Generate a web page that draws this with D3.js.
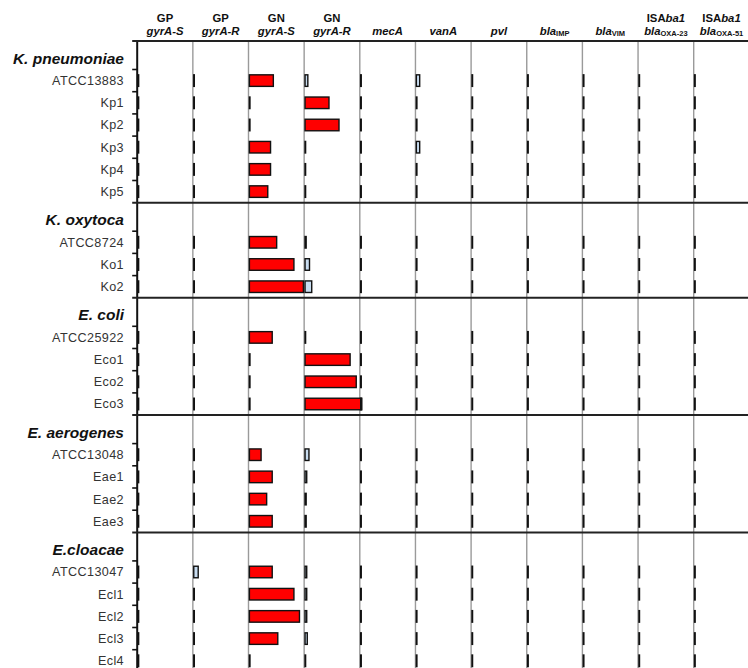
<!DOCTYPE html>
<html>
<head>
<meta charset="utf-8">
<script src="https://cdn.jsdelivr.net/npm/d3@7"></script>
<style>
  html, body { margin: 0; padding: 0; background: #fff; }
  svg { display: block; font-family: Arial, "Liberation Sans", sans-serif; }
</style>
</head>
<body>
<svg id="chart" width="748" height="668"></svg>
<script>
// Species groups and their isolates, top to bottom
const groupNames = ["K. pneumoniae", "K. oxytoca", "E. coli", "E. aerogenes", "E.cloacae"];
const kPneumoniae = ["ATCC13883", "Kp1", "Kp2", "Kp3", "Kp4", "Kp5"];
const kOxytoca = ["ATCC8724", "Ko1", "Ko2"];
const eColi = ["ATCC25922", "Eco1", "Eco2", "Eco3"];
const eAerogenes = ["ATCC13048", "Eae1", "Eae2", "Eae3"];
const eCloacae = ["ATCC13047", "Ecl1", "Ecl2", "Ecl3", "Ecl4"];
const groupSamples = [kPneumoniae, kOxytoca, eColi, eAerogenes, eCloacae];

// Column headers (first line, second line)
const headerTop = ["GP", "GP", "GN", "GN", "", "", "", "", "", "ISAba1", "ISAba1"];
const headerBottom = ["gyrA-S", "gyrA-R", "gyrA-S", "gyrA-R", "mecA", "vanA", "pvl",
                      "bla|IMP", "bla|VIM", "bla|OXA-23", "bla|OXA-51"];

// Signal per target, one value per isolate (same order as above), relative scale 0-100
const gpGyrAS  = [1,1,1,1,1,1, 1,1,1, 1,1,1,1, 1,1,1,1, 1,1,1,1,1];
const gpGyrAR  = [1,1,1,1,1,1, 1,1,1, 1,1,1,1, 1,1,1,1, 8,1,1,1,1];
const gnGyrAS  = [43,1,1,38,38,33, 49,80,97, 41,1,1,1, 21,41,31,41, 41,80,90,51,1];
const gnGyrAR  = [5,43,61,1,1,1, 2,8,12, 1,81,92,102, 7,3,2,2, 3,3,3,4,1];
const mecA     = [1,1,1,1,1,1, 1,1,1, 1,1,1,1, 1,1,1,1, 1,1,1,1,1];
const vanA     = [6,1,1,6,1,1, 1,1,1, 1,1,1,1, 1,1,1,1, 1,1,1,1,1];
const pvl      = [1,1,1,1,1,1, 1,1,1, 1,1,1,1, 1,1,1,1, 1,1,1,1,1];
const blaIMP   = [1,1,1,1,1,1, 1,1,1, 1,1,1,1, 1,1,1,1, 1,1,1,1,1];
const blaVIM   = [1,1,1,1,1,1, 1,1,1, 1,1,1,1, 1,1,1,1, 1,1,1,1,1];
const blaOXA23 = [1,1,1,1,1,1, 1,1,1, 1,1,1,1, 1,1,1,1, 1,1,1,1,1];
const blaOXA51 = [1,1,1,1,1,1, 1,1,1, 1,1,1,1, 1,1,1,1, 1,1,1,1,1];
const columnValues = [gpGyrAS, gpGyrAR, gnGyrAS, gnGyrAR, mecA, vanA, pvl, blaIMP, blaVIM, blaOXA23, blaOXA51];

// Values below this are drawn as weak (pale) signals
const weakThreshold = 15;

const svg = d3.select("#chart");
svg.append("rect").attr("width", 748).attr("height", 668).attr("fill", "#fff");

const plotLeft = 137.2, colStep = 55.65, plotTop = 41;
const headerH = 28.5, rowH = 22.2;
const colKeys = d3.range(headerBottom.length);

const colX = d3.scaleBand().domain(colKeys).range([plotLeft, plotLeft + colStep * colKeys.length]);
const xVal = d3.scaleLinear().domain([0, 100]).range([0, colX.bandwidth()]);

// One band scale per species block
let cursor = plotTop;
const blocks = groupSamples.map((samples, gi) => {
  const top = cursor;
  const y = d3.scaleBand().domain(samples)
    .range([top + headerH, top + headerH + samples.length * rowH]);
  cursor = top + headerH + samples.length * rowH;
  return { name: groupNames[gi], samples, top, bottom: cursor, y };
});
const plotBottom = cursor;

// Vertical grid lines at each column's baseline
svg.append("g").selectAll("line").data(colKeys.slice(1).concat([colKeys.length]))
  .join("line")
  .attr("x1", d => plotLeft + colStep * d).attr("x2", d => plotLeft + colStep * d)
  .attr("y1", plotTop).attr("y2", plotBottom)
  .attr("stroke", "#9a9a9a").attr("stroke-width", 1.4);

// Bars
let sampleIndex = 0;
const barData = [];
blocks.forEach(b => {
  b.samples.forEach(s => {
    colKeys.forEach(c => {
      barData.push({ block: b, sample: s, col: c, value: columnValues[c][sampleIndex] });
    });
    sampleIndex++;
  });
});
const barH = rowH * 0.52;
svg.append("g").selectAll("rect").data(barData).join("rect")
  .attr("x", d => colX(d.col) + 0.9)
  .attr("y", d => d.block.y(d.sample) + (d.block.y.bandwidth() - barH) / 2)
  .attr("width", d => xVal(d.value))
  .attr("height", barH)
  .attr("fill", d => d.value >= weakThreshold ? "#ff0000" : "#c8dcf0")
  .attr("stroke", "#111").attr("stroke-width", 1.4);

// Left axis with ticks on the row boundaries
const axisG = svg.append("g");
axisG.append("line")
  .attr("x1", plotLeft).attr("x2", plotLeft)
  .attr("y1", plotTop).attr("y2", plotBottom)
  .attr("stroke", "#111").attr("stroke-width", 2);
blocks.forEach(b => {
  axisG.append("g").selectAll("line").data(b.samples).join("line")
    .attr("x1", plotLeft - 5).attr("x2", plotLeft)
    .attr("y1", d => b.y(d)).attr("y2", d => b.y(d))
    .attr("stroke", "#111").attr("stroke-width", 1.6);
});

// Horizontal separators between species blocks
svg.append("g").selectAll("line").data(blocks.map(b => b.top)).join("line")
  .attr("x1", plotLeft - 5).attr("x2", 748)
  .attr("y1", d => d).attr("y2", d => d)
  .attr("stroke", "#222").attr("stroke-width", 2);

// Species titles
svg.append("g").selectAll("text").data(blocks).join("text")
  .attr("x", 124).attr("y", d => d.top + headerH - 6)
  .attr("text-anchor", "end")
  .attr("font-size", 15.5).attr("font-weight", "bold").attr("font-style", "italic")
  .attr("fill", "#111")
  .text(d => d.name);

// Isolate labels
blocks.forEach(b => {
  svg.append("g").selectAll("text").data(b.samples).join("text")
    .attr("x", 124).attr("y", d => b.y(d) + b.y.bandwidth() / 2 + 4.4)
    .attr("text-anchor", "end")
    .attr("font-size", 12.6).attr("letter-spacing", 0.4).attr("fill", "#333")
    .text(d => d);
});

// Column headers
const head = svg.append("g").attr("font-weight", "bold").attr("font-size", 11.3).attr("fill", "#111");
colKeys.forEach(c => {
  const cx = colX(c) + colX.bandwidth() / 2;
  const t1 = headerTop[c];
  if (t1) {
    const line1 = head.append("text").attr("x", cx).attr("y", 22).attr("text-anchor", "middle");
    if (t1.startsWith("ISA")) {
      line1.append("tspan").text("ISA");
      line1.append("tspan").attr("font-style", "italic").text(t1.slice(3));
    } else {
      line1.text(t1);
    }
  }
  const parts = headerBottom[c].split("|");
  const line2 = head.append("text").attr("x", cx).attr("y", 34.5).attr("text-anchor", "middle");
  line2.append("tspan").attr("font-style", "italic").text(parts[0]);
  if (parts[1]) {
    line2.append("tspan").attr("font-size", 7.5).attr("dy", 1.5).text(parts[1]);
  }
});
</script>
</body>
</html>
